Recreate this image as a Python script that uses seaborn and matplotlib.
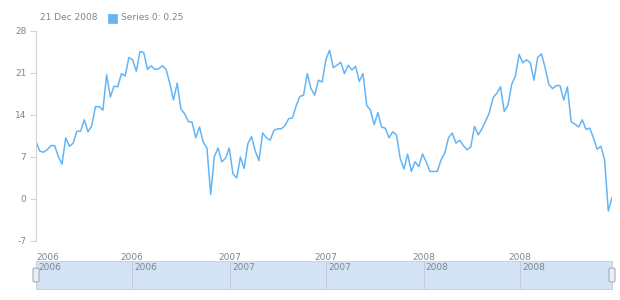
import numpy as np
import pandas as pd
import matplotlib
matplotlib.use("Agg")
import matplotlib.pyplot as plt
import matplotlib.dates as mdates
from matplotlib.patches import FancyBboxPatch
import seaborn as sns

# ---- data (weekly) ----
start_date = "2006-01-01"
end_date = "2008-12-21"
series_name = "Series 0"
values = [
    9.6, 8.0, 7.8, 8.2, 8.9, 8.9, 7.1, 5.8, 10.2, 8.8,
    9.3, 11.3, 11.3, 13.2, 11.2, 12.2, 15.4, 15.4, 14.8, 20.7,
    17.0, 18.8, 18.7, 20.9, 20.5, 23.6, 23.2, 21.3, 24.6, 24.4,
    21.6, 22.2, 21.6, 21.7, 22.2, 21.6, 19.3, 16.5, 19.3, 15.0,
    14.2, 12.9, 12.8, 10.2, 12.0, 9.5, 8.5, 0.8,
    7.1, 8.5, 6.2, 6.8, 8.5, 4.2, 3.5, 7.0, 5.1, 9.2,
    10.4, 8.0, 6.4, 11.0, 10.2, 9.8, 11.4, 11.7, 11.7, 12.2,
    13.4, 13.5, 15.5, 17.1, 17.3, 20.9, 18.4, 17.3, 19.8, 19.5,
    23.2, 24.8, 21.9, 22.3, 22.8, 20.9, 22.3, 21.5, 22.1, 19.6,
    20.9, 15.6, 14.8, 12.4, 14.4, 12.0, 11.8, 10.2, 11.2, 10.7,
    6.8,
    5.0, 7.5, 4.6, 6.2, 5.4, 7.5, 6.2, 4.6, 4.6, 4.6,
    6.5, 7.7, 10.2, 11.0, 9.3, 9.8, 8.9, 8.2, 8.7, 12.1,
    10.7, 11.7, 13.0, 14.4, 16.9, 17.6, 18.7, 14.6, 15.6, 19.1,
    20.5, 24.1, 22.7, 23.2, 22.7, 19.8, 23.6, 24.2, 21.9, 19.1,
    18.4, 18.9, 18.9, 16.5, 18.7, 12.9, 12.5, 12.0, 13.2, 11.6,
    11.8, 10.2, 8.3, 8.8, 6.6, -2.0, 0.25,
]
y_ticks = [-7, 0, 7, 14, 21, 28]
x_tick_dates = ["2006-01-01", "2006-07-01", "2007-01-01", "2007-07-01", "2008-01-01", "2008-07-01"]
x_tick_labels = ["2006", "2006", "2007", "2007", "2008", "2008"]

dates = pd.date_range(end=end_date, periods=len(values), freq="7D")
df = pd.DataFrame({"date": dates, "value": values})
tick_dates = pd.to_datetime(x_tick_dates)

LINE = "#64b5f6"
TXT = "#7c868e"
AX = "#cfd4d8"

sns.set_theme(style="white")
plt.rcParams["font.family"] = ["DejaVu Sans"]

fig = plt.figure(figsize=(6.2, 3.0), dpi=100)
ax = fig.add_axes([36/620, 1-241/300, 576/620, 210/300])
sns.lineplot(data=df, x="date", y="value", ax=ax, color=LINE, linewidth=1.1)
ax.set_xlim(df["date"].iloc[0], df["date"].iloc[-1])
ax.set_ylim(-7, 28)
ax.set_yticks(y_ticks)
ax.set_yticklabels([str(t) for t in y_ticks])
ax.set_xlabel("")
ax.set_ylabel("")
for s in ["top", "right", "bottom"]:
    ax.spines[s].set_visible(False)
ax.spines["left"].set_color(AX)
ax.spines["left"].set_linewidth(0.8)
ax.tick_params(axis="y", left=True, length=4, width=0.8, color=AX, labelsize=6.5,
               labelcolor=TXT, pad=3)
ax.set_xticks(tick_dates)
ax.set_xticklabels(x_tick_labels)
ax.tick_params(axis="x", bottom=False, labelsize=6.5, labelcolor=TXT, pad=3)
lbls = ax.get_xticklabels()
lbls[0].set_horizontalalignment("left")

# legend header
fig.text(40/620, 1-18/300, "21 Dec 2008", fontsize=6.5, color=TXT, va="center", ha="left")
fig.patches.append(FancyBboxPatch((108/620, 1-23/300), 9/620, 9/300, boxstyle="square,pad=0",
                                  transform=fig.transFigure, facecolor=LINE, edgecolor=LINE,
                                  linewidth=0.5))
fig.text(121/620, 1-18/300, f"{series_name}: {values[-1]:.2f}", fontsize=6.5, color=TXT,
         va="center", ha="left")

# scroller
ax2 = fig.add_axes([36/620, 1-289/300, 576/620, 28/300])
ax2.set_facecolor("#d3e2f4")
ax2.set_xlim(df["date"].iloc[0], df["date"].iloc[-1])
ax2.set_ylim(0, 1)
ax2.set_xticks(tick_dates)
ax2.set_yticks([])
ax2.tick_params(axis="x", bottom=False, labelbottom=False)
ax2.grid(axis="x", color="#bfcbd8", linewidth=0.7)
for sp in ax2.spines.values():
    sp.set_color("#c5d3e2")
    sp.set_linewidth(0.7)
for d, lab in zip(tick_dates, x_tick_labels):
    ax2.text(d + pd.Timedelta(days=4), 0.78, lab, fontsize=6.5, color=TXT, ha="left", va="center")

for xh in (36, 612):
    fig.patches.append(FancyBboxPatch(((xh-3)/620, 1-282/300), 6/620, 14/300,
                                      boxstyle="round,pad=0,rounding_size=0.004",
                                      transform=fig.transFigure, facecolor="#eceff1",
                                      edgecolor="#9aa3ab", linewidth=0.7, zorder=5))

fig.savefig("out.png", dpi=100)
